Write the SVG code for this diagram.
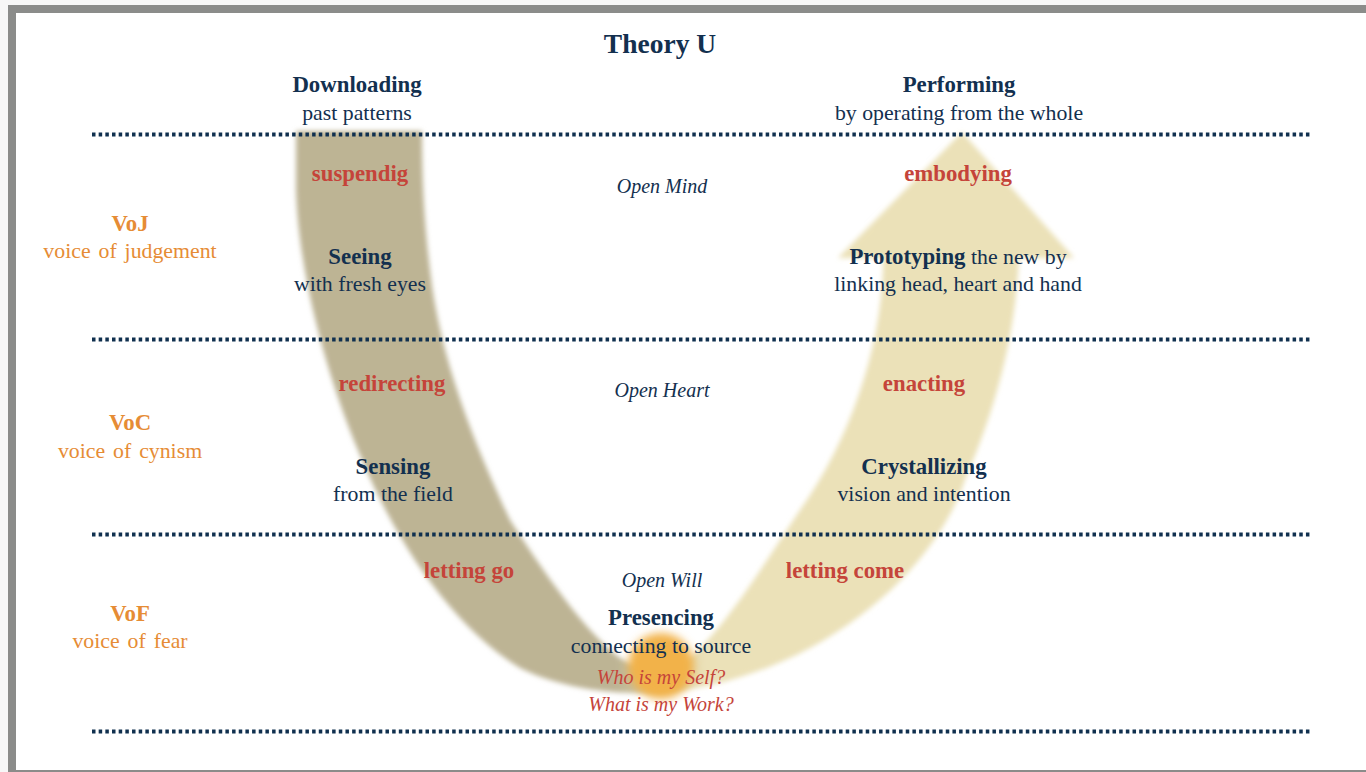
<svg xmlns="http://www.w3.org/2000/svg" width="1366" height="772" viewBox="0 0 1366 772">
  <defs>
    <linearGradient id="uGrad" gradientUnits="userSpaceOnUse" x1="615" y1="0" x2="705" y2="0">
      <stop offset="0" stop-color="#bdb494"/>
      <stop offset="1" stop-color="#ebe1b8"/>
    </linearGradient>
    <filter id="soft" x="-10%" y="-10%" width="120%" height="120%">
      <feGaussianBlur stdDeviation="2.5"/>
    </filter>
    <filter id="glow" x="-50%" y="-50%" width="200%" height="200%">
      <feGaussianBlur stdDeviation="4"/>
    </filter>
  </defs>
  <style>
    text { font-family: "Liberation Serif", "Times New Roman", serif; text-anchor: middle; }
    .b { font-weight: bold; font-size: 22.8px; }
    .r { font-size: 21.8px; }
    .i { font-style: italic; font-size: 20px; }
    .navy { fill: #13304f; }
    .red { fill: #c5443a; }
    .org { fill: #e68c35; }
    .dots { stroke: #10304f; stroke-width: 3.8; stroke-dasharray: 3.5 3.17; fill: none; }
  </style>

  <!-- frame -->
  <rect x="0" y="0" width="1366" height="772" fill="#f7f7f7"/>
  <rect x="8" y="5" width="1358" height="767" fill="#8b8c8a"/>
  <rect x="16" y="13" width="1350" height="757" fill="#ffffff"/>

  <!-- U shape -->
  <g id="connectors">
    <path id="u-arrow" filter="url(#soft)" fill="url(#uGrad)" d="M296,131 L296,190 C298,260 320,360 360,455 C395,540 450,625 520,668 C560,688 610,694 650,693 C700,692 760,675 810,648 C890,605 945,540 965,480 C995,410 1015,340 1019,258 L1074,258 L962,132 L838,258 L883,258 L883,270 C880,350 850,440 800,510 C760,570 730,620 693,655 Q655,680 620,658 C590,635 555,590 510,520 C475,445 440,360 430,270 C424,220 422,180 422,131 Z"/>
    <circle id="source-glow" cx="661" cy="666" r="33" fill="#f2b24a" filter="url(#glow)"/>
  </g>

  <!-- dotted level lines -->
  <g id="levels">
    <line class="dots" x1="92" y1="134.5" x2="1310" y2="134.5"/>
    <line class="dots" x1="92" y1="339.5" x2="1310" y2="339.5"/>
    <line class="dots" x1="92" y1="534.5" x2="1310" y2="534.5"/>
    <line class="dots" x1="92" y1="731.5" x2="1310" y2="731.5"/>
  </g>

  <g id="title"><text x="660" y="53" class="navy" style="font-weight:bold;font-size:27.5px">Theory U</text></g>

  <g id="downloading">
    <text x="357" y="92" class="b navy">Downloading</text>
    <text x="357" y="120" class="r navy">past patterns</text>
  </g>
  <g id="performing">
    <text x="959" y="92" class="b navy">Performing</text>
    <text x="959" y="120" class="r navy">by operating from the whole</text>
  </g>

  <g id="suspending"><text x="360" y="181" class="b red">suspendig</text></g>
  <g id="open-mind"><text x="662" y="193" class="i navy">Open Mind</text></g>
  <g id="embodying"><text x="958" y="181" class="b red">embodying</text></g>

  <g id="voj">
    <text x="130" y="231" class="b org">VoJ</text>
    <text x="130" y="258" class="r org" style="word-spacing:2.5px">voice of judgement</text>
  </g>
  <g id="seeing">
    <text x="360" y="264" class="b navy">Seeing</text>
    <text x="360" y="291" class="r navy">with fresh eyes</text>
  </g>
  <g id="prototyping">
    <text x="958" y="264" class="r navy"><tspan style="font-weight:bold;font-size:22.8px">Prototyping</tspan> the new by</text>
    <text x="958" y="291" class="r navy">linking head, heart and hand</text>
  </g>

  <g id="redirecting"><text x="392" y="391" class="b red">redirecting</text></g>
  <g id="open-heart"><text x="662" y="397" class="i navy">Open Heart</text></g>
  <g id="enacting"><text x="924" y="391" class="b red">enacting</text></g>

  <g id="voc">
    <text x="130" y="430" class="b org">VoC</text>
    <text x="130" y="458" class="r org" style="word-spacing:2.5px">voice of cynism</text>
  </g>
  <g id="sensing">
    <text x="393" y="474" class="b navy">Sensing</text>
    <text x="393" y="501" class="r navy">from the field</text>
  </g>
  <g id="crystallizing">
    <text x="924" y="474" class="b navy">Crystallizing</text>
    <text x="924" y="501" class="r navy">vision and intention</text>
  </g>

  <g id="letting-go"><text x="469" y="578" class="b red">letting go</text></g>
  <g id="open-will"><text x="662" y="587" class="i navy">Open Will</text></g>
  <g id="letting-come"><text x="845" y="578" class="b red">letting come</text></g>

  <g id="vof">
    <text x="130" y="621" class="b org">VoF</text>
    <text x="130" y="648" class="r org" style="word-spacing:2.5px">voice of fear</text>
  </g>
  <g id="presencing">
    <text x="661" y="625" class="b navy">Presencing</text>
    <text x="661" y="653" class="r navy">connecting to source</text>
    <text x="661" y="684" class="i red">Who is my Self?</text>
    <text x="661" y="711" class="i red">What is my Work?</text>
  </g>
</svg>
